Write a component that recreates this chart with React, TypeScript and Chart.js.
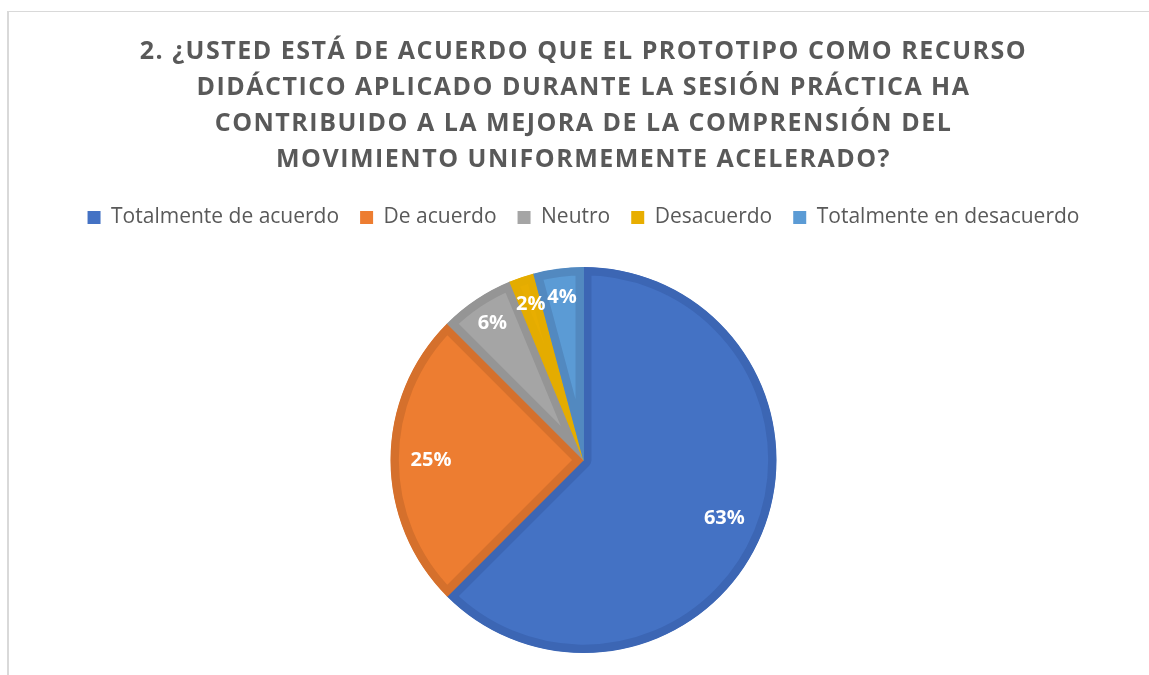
import React, { useEffect, useRef } from "react";
import { Chart, registerables } from "chart.js";

Chart.register(...registerables);

const TITLE_LINES = [
  "2. ¿USTED ESTÁ DE ACUERDO QUE EL PROTOTIPO COMO RECURSO",
  "DIDÁCTICO APLICADO DURANTE LA SESIÓN PRÁCTICA HA",
  "CONTRIBUIDO A LA MEJORA DE LA COMPRENSIÓN DEL",
  "MOVIMIENTO UNIFORMEMENTE ACELERADO?",
];
const CATEGORIES = [
  "Totalmente de acuerdo",
  "De acuerdo",
  "Neutro",
  "Desacuerdo",
  "Totalmente en desacuerdo",
];
const COUNTS = [30, 12, 3, 1, 2];
const FILL_COLORS = ["#4472C4", "#ED7D31", "#A5A5A5", "#E8AE00", "#5B9BD5"];
const BORDER_COLORS = ["#3C66B4", "#D5702C", "#959595", "#E4AC00", "#5289C0"];

const titleSpacingPlugin = {
  id: "titleSpacing",
  beforeDraw(chart: any) {
    const t = chart.titleBlock;
    if (t && !t.__spaced) {
      const orig = t.draw.bind(t);
      t.draw = function (...args: any[]) {
        const c = this.ctx;
        const prev = c.letterSpacing;
        c.letterSpacing = "1.5px";
        orig(...args);
        c.letterSpacing = prev || "0px";
      };
      t.__spaced = true;
    }
  },
};

const labelPlugin = {
  id: "pieLabels",
  afterDatasetsDraw(chart: any) {
    const ctx = chart.ctx;
    const meta = chart.getDatasetMeta(0);
    const data = chart.data.datasets[0].data as number[];
    const total = data.reduce((a, b) => a + b, 0);
    ctx.save();
    ctx.font = "bold 20px 'Open Sans'";
    ctx.fillStyle = "#ffffff";
    ctx.textAlign = "center";
    ctx.textBaseline = "middle";
    meta.data.forEach((arc: any, i: number) => {
      const share = data[i] / total;
      const { x, y, startAngle, endAngle, outerRadius } = arc.getProps(
        ["x", "y", "startAngle", "endAngle", "outerRadius"],
        true
      );
      const mid = (startAngle + endAngle) / 2;
      const f = share > 0.1 ? 0.79 : 0.85;
      const r = outerRadius * f;
      ctx.fillText(
        Math.round(share * 100) + "%",
        x + Math.cos(mid) * r,
        y + Math.sin(mid) * r
      );
    });
    ctx.restore();
  },
};

export default function App() {
  const ref = useRef<HTMLCanvasElement | null>(null);
  useEffect(() => {
    if (!ref.current) return;
    const chart = new Chart(ref.current, {
      type: "pie",
      data: {
        labels: CATEGORIES,
        datasets: [
          {
            data: COUNTS,
            backgroundColor: FILL_COLORS,
            borderColor: BORDER_COLORS,
            borderWidth: 8,
            borderAlign: "inner",
            radius: 193,
          } as any,
        ],
      },
      options: {
        animation: false,
        responsive: true,
        maintainAspectRatio: false,
        layout: { padding: { left: 9, right: 0, top: 22, bottom: 0 } },
        plugins: {
          title: {
            display: true,
            text: TITLE_LINES,
            color: "#595959",
            font: { family: "'Open Sans'", size: 25, weight: "bold", lineHeight: 1.44 },
            padding: { top: 0, bottom: 8 },
          },
          legend: {
            position: "top",
            labels: {
              color: "#595959",
              font: { family: "'Open Sans'", size: 21 },
              boxWidth: 13,
              boxHeight: 13,
              padding: 21,
              generateLabels(chart: any) {
                const ds = chart.data.datasets[0];
                return chart.data.labels.map((l: string, i: number) => ({
                  text: l,
                  fillStyle: ds.backgroundColor[i],
                  strokeStyle: ds.backgroundColor[i],
                  lineWidth: 0,
                  fontColor: "#595959",
                  index: i,
                  hidden: false,
                }));
              },
            },
          },
          tooltip: { enabled: false },
        },
      },
      plugins: [titleSpacingPlugin, labelPlugin],
    });
    return () => chart.destroy();
  }, []);
  return (
    <div
      style={{
        position: "fixed",
        left: 7,
        top: 11,
        width: 1142,
        height: 664,
        overflow: "hidden",
        borderLeft: "2px solid #d9d9d9",
        borderTop: "1px solid #d9d9d9",
        background: "#fff",
      }}
    >
      <div style={{ position: "relative", width: 1140, height: 670 }}>
        <canvas ref={ref} />
      </div>
    </div>
  );
}
